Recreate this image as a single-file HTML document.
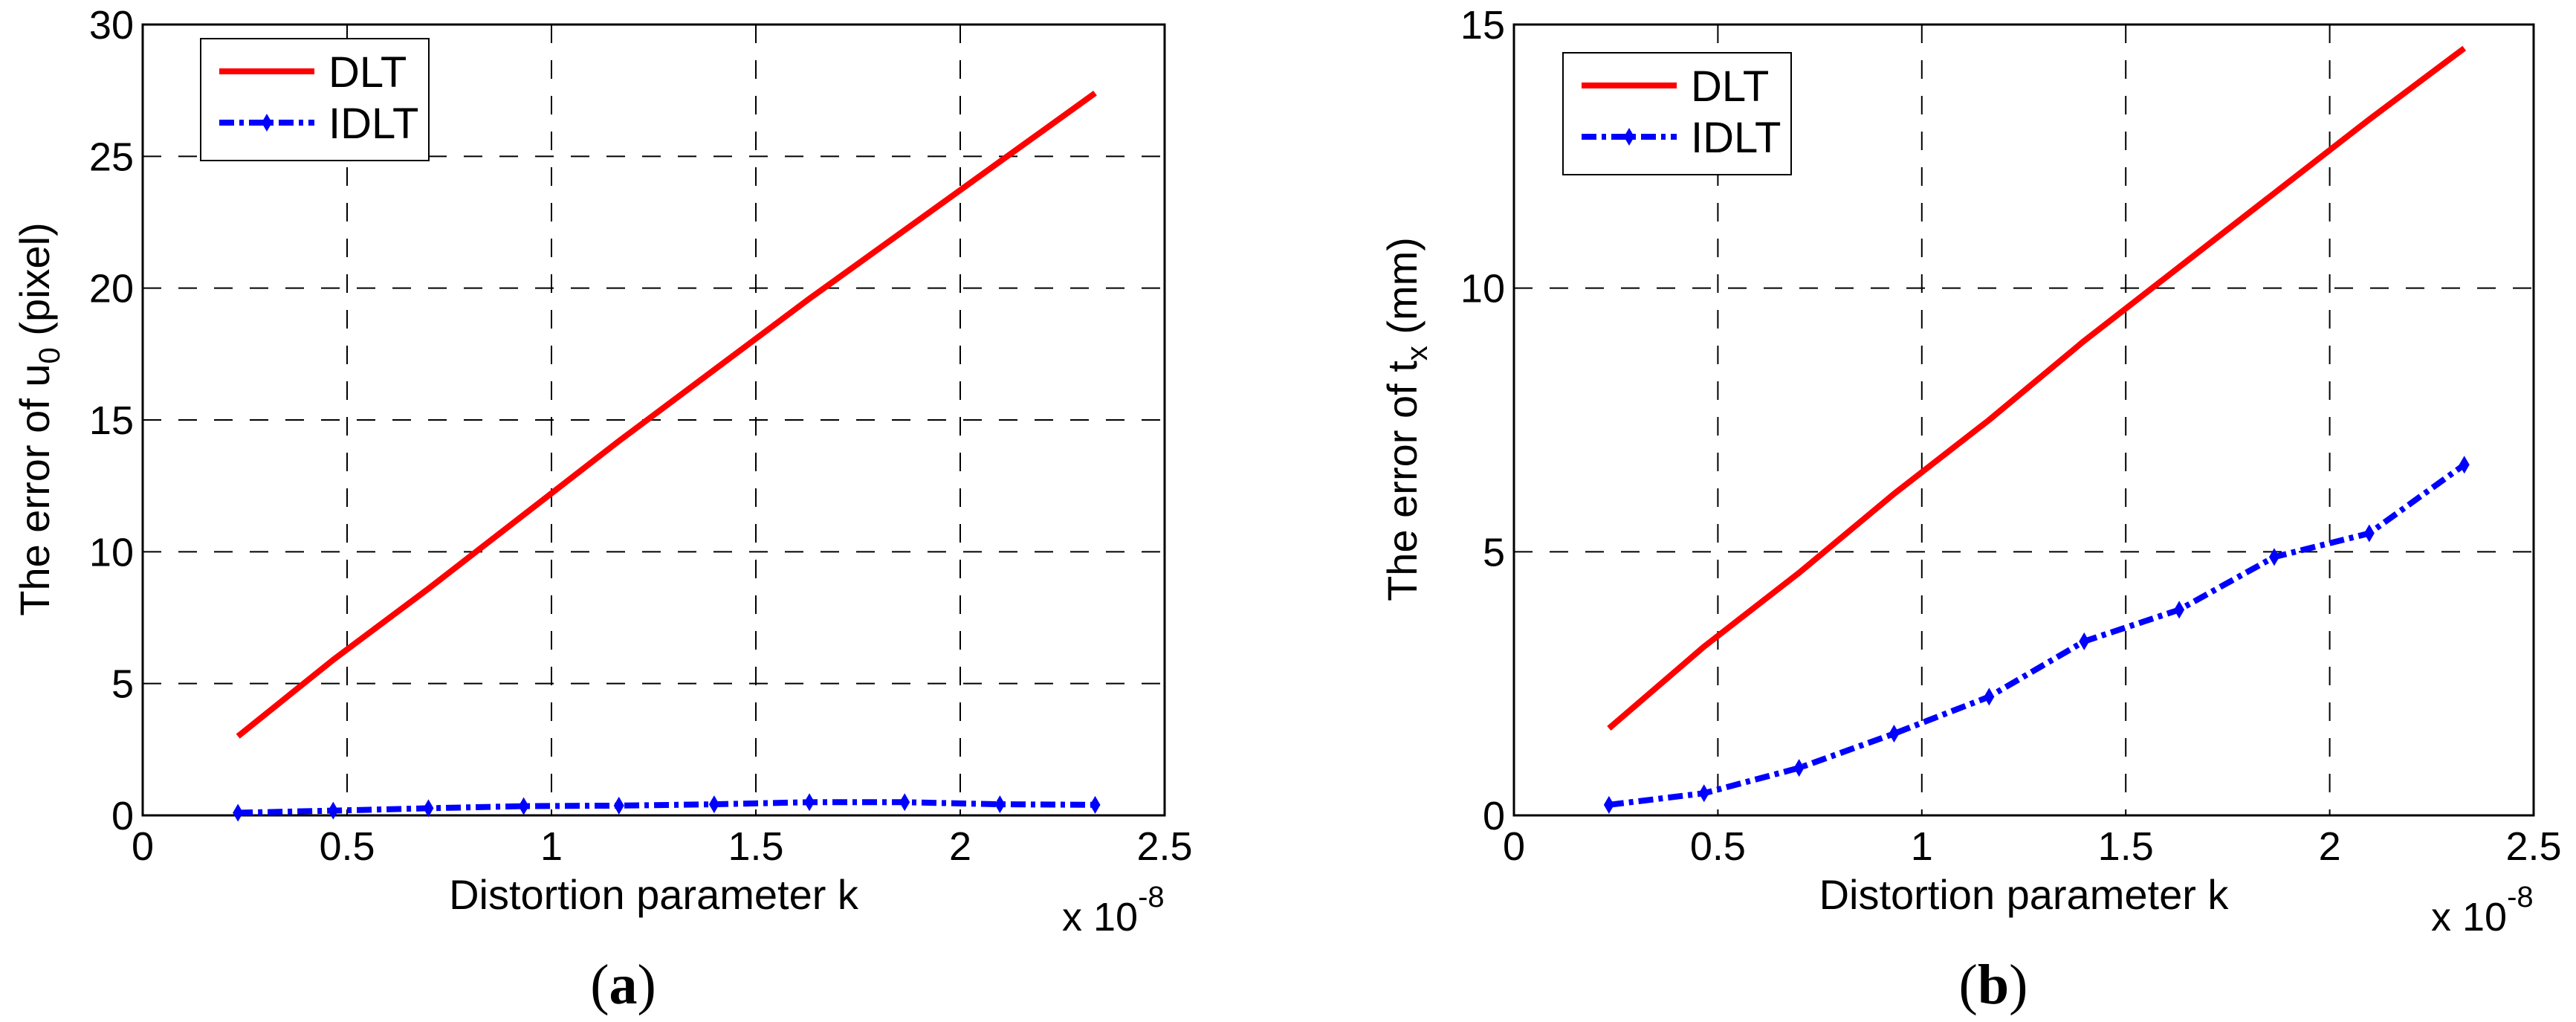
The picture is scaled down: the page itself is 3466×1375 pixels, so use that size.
<!DOCTYPE html>
<html><head><meta charset="utf-8"><style>
html,body{margin:0;padding:0;background:#fff;}
svg{display:block;font-family:"Liberation Sans",sans-serif;}
</style></head><body>
<svg id="fig" width="3466" height="1375" viewBox="0 0 3466 1375" xmlns="http://www.w3.org/2000/svg"></svg>
<script>
const kValues = [0.233,0.466,0.699,0.932,1.165,1.398,1.631,1.864,2.097,2.33];
const dltA = [3.0,5.9,8.6,11.4,14.2,16.9,19.6,22.2,24.8,27.4];
const idltA = [0.1,0.18,0.27,0.35,0.37,0.42,0.5,0.5,0.42,0.4];
const dltB = [1.65,3.2,4.6,6.1,7.5,9.0,10.4,11.8,13.2,14.55];
const idltB = [0.2,0.42,0.9,1.55,2.25,3.3,3.9,4.9,5.35,6.65];
const xTicks = [0,0.5,1,1.5,2,2.5];
const xTickLabels = ["0","0.5","1","1.5","2","2.5"];
const yTicksA = [0,5,10,15,20,25,30];
const yTicksB = [0,5,10,15];

const NS="http://www.w3.org/2000/svg";
const svg=document.getElementById('fig');
function mk(tag,attrs,parent){const e=document.createElementNS(NS,tag);for(const k in attrs)e.setAttribute(k,attrs[k]);(parent||svg).appendChild(e);return e;}

function drawPanel(cfg){
  const g=mk('g',{});
  
  
  const L=cfg.left,R=cfg.right,T=33,B=1097;
  const xs=v=>L+(v-0)/2.5*(R-L);
  const ys=v=>B-(v/cfg.ymax)*(B-T);
  // grid
  xTicks.forEach((t,i)=>{
    if(i>0&&i<xTicks.length-1){const l=mk('line',{x1:xs(t),x2:xs(t),y1:T,y2:B,stroke:'#000','stroke-width':2,'stroke-dasharray':'25 23'},g);
    }
    const tx=mk('text',{x:xs(t),y:1157,'font-size':54,'text-anchor':'middle',fill:'#000'},g);
    tx.textContent=xTickLabels[i];
    
  });
  cfg.yticks.forEach((t,i)=>{
    if(i>0&&i<cfg.yticks.length-1){const l=mk('line',{x1:L,x2:R,y1:ys(t),y2:ys(t),stroke:'#000','stroke-width':2,'stroke-dasharray':'25 23'},g);
    }
    const tx=mk('text',{x:L-12,y:ys(t)+19,'font-size':54,'text-anchor':'end',fill:'#000'},g);
    tx.textContent=String(t);
    
  });
  // axes box
  const box=mk('rect',{x:L,y:T,width:R-L,height:B-T,fill:'none',stroke:'#000','stroke-width':3},g);
  
  // series
  const pd=kValues.map((k,i)=>xs(k)+','+ys(cfg.dlt[i])).join(' ');
  const red=mk('polyline',{points:pd,fill:'none',stroke:'#ff0000','stroke-width':8,'stroke-linejoin':'round'},g);
  
  const pi=kValues.map((k,i)=>xs(k)+','+ys(cfg.idlt[i])).join(' ');
  const blue=mk('polyline',{points:pi,fill:'none',stroke:'#0000ff','stroke-width':8,'stroke-dasharray':'20 7 6 7'},g);
  
  kValues.forEach((k,i)=>{
    const x=xs(k),y=ys(cfg.idlt[i]);
    const m=mk('polygon',{points:`${x},${y-12} ${x+7},${y} ${x},${y+12} ${x-7},${y}`,fill:'#0000ff'},g);
    
  });
  // legend
  const lg=mk('g',{},g);
  
  const lx=cfg.legX,ly=cfg.legY;
  mk('rect',{x:lx,y:ly,width:307,height:164,fill:'#fff',stroke:'#000','stroke-width':2},lg);
  mk('line',{x1:lx+25,x2:lx+153,y1:ly+44,y2:ly+44,stroke:'#ff0000','stroke-width':8},lg);
  const t1=mk('text',{x:lx+172,y:ly+65,'font-size':58,fill:'#000'},lg);t1.textContent='DLT';
  
  mk('line',{x1:lx+25,x2:lx+153,y1:ly+113,y2:ly+113,stroke:'#0000ff','stroke-width':8,'stroke-dasharray':'20 7 6 7'},lg);
  mk('polygon',{points:`${lx+89},${ly+101} ${lx+96},${ly+113} ${lx+89},${ly+125} ${lx+82},${ly+113}`,fill:'#0000ff'},lg);
  const t2=mk('text',{x:lx+172,y:ly+134,'font-size':58,fill:'#000'},lg);t2.textContent='IDLT';
  
  // labels
  const cx=(L+R)/2;
  const xl=mk('text',{x:cx,y:1223,'font-size':56,'text-anchor':'middle',fill:'#000'},g);
  xl.textContent='Distortion parameter k';
  
  const ex=mk('text',{x:R-138,y:1252,'font-size':54,fill:'#000'},g);
  ex.innerHTML='x 10<tspan dy="-32" font-size="40">-8</tspan>';
  
  const yl=mk('text',{x:0,y:0,'font-size':56,'text-anchor':'middle',fill:'#000',transform:`translate(${cfg.ylx},564) rotate(-90)`},g);
  yl.innerHTML=cfg.ylabel;
  
  const pl=mk('text',{x:cx-41,y:1350,'font-size':76,'text-anchor':'middle',fill:'#000','font-family':'Liberation Serif, serif'},g);
  pl.innerHTML=cfg.panel;
  
}
drawPanel({name:'chart-a',left:192,right:1567,ymax:30,yticks:yTicksA,dlt:dltA,idlt:idltA,legX:270,legY:52,ylx:66,
  ylabel:'The error of  u<tspan dy="14" font-size="40">0</tspan><tspan dy="-14"> (pixel)</tspan>',panel:'(<tspan font-weight="bold">a</tspan>)'});
drawPanel({name:'chart-b',left:2037,right:3409,ymax:15,yticks:yTicksB,dlt:dltB,idlt:idltB,legX:2103,legY:71,ylx:1906,
  ylabel:'The error of  t<tspan dy="14" font-size="40">x</tspan><tspan dy="-14"> (mm)</tspan>',panel:'(<tspan font-weight="bold">b</tspan>)'});
</script>
</body></html>
